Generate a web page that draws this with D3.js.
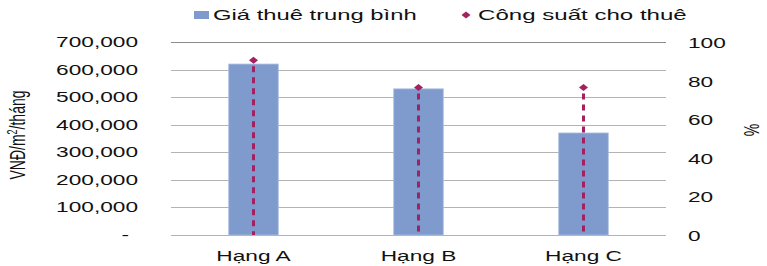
<!DOCTYPE html>
<meta charset="utf-8">
<style>
body { margin: 0; background: #fff; }
svg text { font-family: 'Liberation Sans', Arial, sans-serif; fill: #111; }
.grid line { stroke: #b3b3b3; stroke-width: 1.2; }
</style>
<body>
<script src="https://d3js.org/d3.v7.min.js"></script>
<script>
var width = 767,
    height = 266;

// data
var categories = ["Hạng A", "Hạng B", "Hạng C"];
var rent = [620000, 530000, 370000];       // Giá thuê trung bình (VNĐ/m2/tháng)
var occupancy = [91, 77, 77];               // Công suất cho thuê (%)
var leftTicks = [0, 100000, 200000, 300000, 400000, 500000, 600000, 700000];
var rightTicks = [0, 20, 40, 60, 80, 100];
var legendLabels = ["Giá thuê trung bình", "Công suất cho thuê"];

var sx = 1.62; // the original is stretched sideways

var svg = d3.select("body").append("svg")
    .attr("width", width)
    .attr("height", height);

var x = d3.scaleBand().domain(categories).range([171, 666])
    .paddingInner(0.7).paddingOuter(0.35);
var y = d3.scaleLinear().domain([0, 700000]).range([235, 42]);
var y2 = d3.scaleLinear().domain([0, 100]).range([236, 43]);

function stretchText(g, px, py, str, anchor, s) {
  return g.append("text")
    .attr("transform", "translate(" + px + "," + py + ") scale(" + (s || sx) + ",1)")
    .attr("text-anchor", anchor)
    .style("font-size", "14px")
    .text(str);
}

// gridlines
svg.append("g").attr("class", "grid")
  .selectAll("line")
  .data(leftTicks)
  .join("line")
    .attr("x1", 171).attr("x2", 666)
    .attr("y1", d => Math.round(y(d)) + 0.5)
    .attr("y2", d => Math.round(y(d)) + 0.5)
    .style("stroke", d => d == 700000 ? "#8c8c8c" : null);

// left tick labels
var lt = svg.append("g");
leftTicks.forEach(d => {
  if (d == 0) stretchText(lt, 129, y(d) + 5, "-", "end");
  else stretchText(lt, 138, y(d) + 5, d3.format(",")(d), "end");
});

// right tick labels
var rt = svg.append("g");
rightTicks.forEach(d => stretchText(rt, 688, y2(d) + 5, d, "start"));

// axis titles
svg.append("text")
  .attr("transform", "translate(25,135) scale(" + sx + ",1) rotate(-90)")
  .attr("text-anchor", "middle")
  .style("font-size", "14px")
  .text("VNĐ/m")
  .append("tspan").attr("dy", -5).style("font-size", "9px").text("2")
  .select(function() { return this.parentNode; })
  .append("tspan").attr("dy", 5).text("/tháng");

svg.append("text")
  .attr("transform", "translate(744,130) scale(" + sx + ",1) rotate(90)")
  .attr("text-anchor", "middle")
  .style("font-size", "14px")
  .text("%");

// bars
svg.append("g")
  .selectAll("rect")
  .data(rent)
  .join("rect")
    .attr("x", (d, i) => x(categories[i]))
    .attr("y", d => y(d))
    .attr("width", x.bandwidth())
    .attr("height", d => y(0) - y(d))
    .attr("fill", "#7f9bcd")
    .attr("stroke", "#a9bde0")
    .attr("stroke-width", 0.8);

// occupancy drop lines and markers
var cx = i => x(categories[i]) + x.bandwidth() / 2;
var occ = svg.append("g");
occ.selectAll("line")
  .data(occupancy)
  .join("line")
    .attr("x1", (d, i) => cx(i)).attr("x2", (d, i) => cx(i))
    .attr("y1", d => y2(d) + 6)
    .attr("y2", y(0))
    .attr("stroke", "#a3215f")
    .attr("stroke-width", 3)
    .attr("stroke-dasharray", "6,5");

function diamond(px, py) {
  return "M" + (px - 4.5) + "," + py + "L" + px + "," + (py - 3.5) +
    "L" + (px + 4.5) + "," + py + "L" + px + "," + (py + 3.5) + "Z";
}
occ.selectAll("path")
  .data(occupancy)
  .join("path")
    .attr("d", (d, i) => diamond(cx(i), y2(d)))
    .attr("fill", "#a3215f");

// category labels
var ct = svg.append("g");
categories.forEach(c => stretchText(ct, x(c) + x.bandwidth() / 2, 261, c, "middle"));

// legend
var lg = svg.append("g");
lg.append("rect").attr("x", 194).attr("y", 11).attr("width", 15).attr("height", 8).attr("fill", "#7f9bcd");
stretchText(lg, 213, 20, legendLabels[0], "start", 1.7);
lg.append("path").attr("d", diamond(466, 15)).attr("fill", "#a3215f");
stretchText(lg, 478, 20, legendLabels[1], "start", 1.72);
</script>
